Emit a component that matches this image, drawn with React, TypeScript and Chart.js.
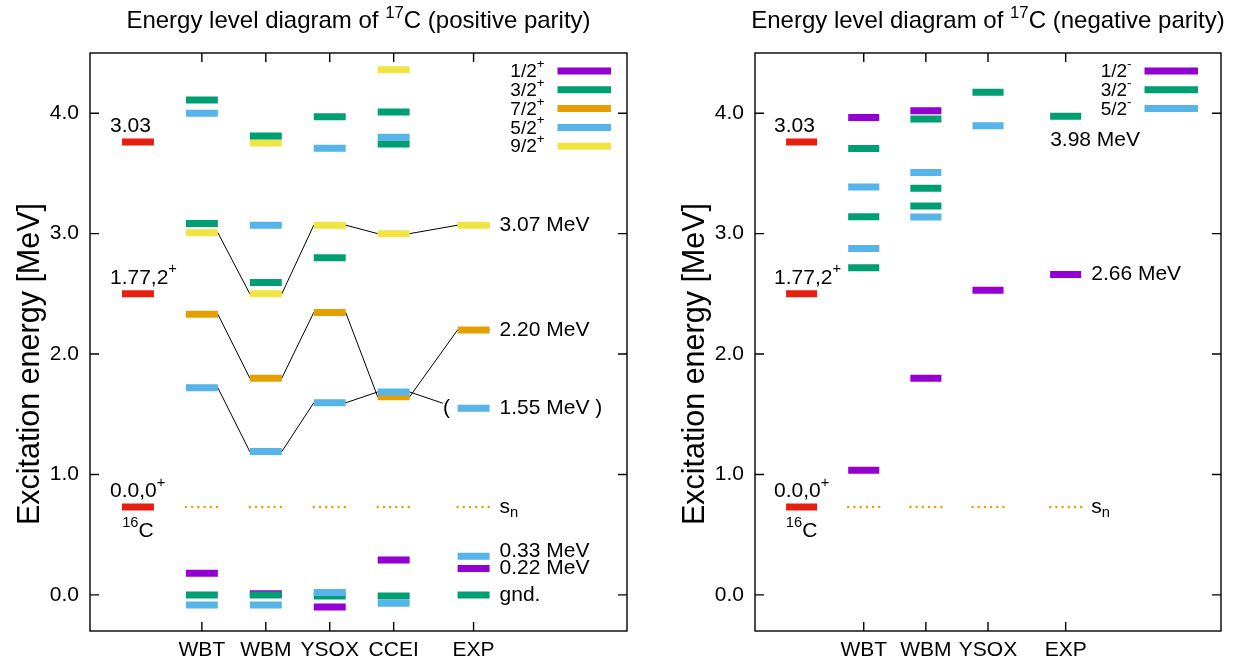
import React, { useEffect, useRef } from "react";
import { Chart, registerables } from "chart.js";

Chart.register(...registerables);

const FONT = "'Liberation Sans', Arial, sans-serif";

const C_PURPLE = "#9400D3";
const C_GREEN = "#009E73";
const C_BLUE = "#56B4E9";
const C_ORANGE = "#E69F00";
const C_YELLOW = "#F0E442";
const C_RED = "#E51E10";

// ---- 16C reference (drawn relative to the neutron threshold) ----
const SN = 0.73;
const C16_X = 0.75;
const C16_EX = [0.0, 1.77, 3.03];
const C16_LABELS = ["0.0,0^{+}", "1.77,2^{+}", "3.03"];

const Y_TICKS = [0, 1, 2, 3, 4];

// ---- positive parity ----
const POS_MODELS = ["WBT", "WBM", "YSOX", "CCEI", "EXP"];
const POS_MODEL_X = [1.75, 2.75, 3.75, 4.75, 6.0];
const POS_J12 = [[0.18], [0.01], [-0.1], [0.29], [0.22]];
const POS_J32 = [[0.0, 3.085, 4.11], [0.0, 2.595, 3.81], [-0.01, 2.8, 3.97], [-0.01, 3.745, 4.01], [0.0]];
const POS_J52 = [[-0.085, 1.72, 4.0], [-0.085, 1.19, 3.07], [0.02, 1.595, 3.71], [-0.07, 1.685, 3.8], [0.32, 1.55]];
const POS_J72 = [[2.33], [1.8], [2.345], [1.645], [2.2]];
const POS_J92 = [[3.008], [2.5, 3.752], [3.07], [3.0, 4.36], [3.07]];
const POS_LINK_92 = [3.008, 2.5, 3.07, 3.0, 3.07];
const POS_LINK_72 = [2.33, 1.8, 2.345, 1.645, 2.2];
const POS_LINK_52 = [1.72, 1.19, 1.595, 1.685, 1.55];
const POS_LEGEND = ["1/2^{+}", "3/2^{+}", "7/2^{+}", "5/2^{+}", "9/2^{+}"];
const POS_LEGEND_COLORS = [C_PURPLE, C_GREEN, C_ORANGE, C_BLUE, C_YELLOW];
const POS_NOTES = ["3.07 MeV", "2.20 MeV", "1.55 MeV )", "(", "s_{n}", "0.33 MeV", "0.22 MeV", "gnd."];
const POS_NOTE_E = [3.07, 2.2, 1.55, 1.55, SN, 0.32, 0.22, 0.0];

// ---- negative parity ----
const NEG_MODELS = ["WBT", "WBM", "YSOX", "EXP"];
const NEG_MODEL_X = [1.75, 2.75, 3.75, 5.0];
const NEG_J12 = [[1.035, 3.965], [1.8, 4.02], [2.53], [2.66]];
const NEG_J32 = [[2.716, 3.14, 3.706], [3.23, 3.376, 3.952], [4.175], [3.975]];
const NEG_J52 = [[2.877, 3.388], [3.139, 3.507], [3.896], []];
const NEG_LEGEND = ["1/2^{-}", "3/2^{-}", "5/2^{-}"];
const NEG_LEGEND_COLORS = [C_PURPLE, C_GREEN, C_BLUE];
const NEG_NOTES = ["3.98 MeV", "2.66 MeV", "s_{n}"];
const NEG_NOTE_E = [3.975, 2.66, SN];

const HALF = 0.25;

type Pt = { x: number; y: number | null };

function barPoints(xs: number[], levels: number[][]): Pt[] {
  const pts: Pt[] = [];
  xs.forEach((x, i) => {
    (levels[i] || []).forEach((e) => {
      pts.push({ x: x - HALF, y: e }, { x: x + HALF, y: e }, { x: x + HALF, y: null });
    });
  });
  return pts;
}

function linkPoints(xs: number[], es: number[], endX?: number): Pt[] {
  const pts: { x: number; y: number }[] = [];
  xs.forEach((x, i) => {
    pts.push({ x: x - HALF, y: es[i] }, { x: x + HALF, y: es[i] });
  });
  if (endX !== undefined) {
    const a = pts[pts.length - 3];
    const b = pts[pts.length - 2];
    const t = (endX - a.x) / (b.x - a.x);
    pts.splice(pts.length - 2, 2, { x: endX, y: a.y + t * (b.y - a.y) });
  }
  return pts;
}

function parseRich(s: string) {
  const out: { t: string; m: string }[] = [];
  const re = /(\^\{([^}]*)\}|_\{([^}]*)\})/g;
  let last = 0;
  let m: RegExpExecArray | null;
  while ((m = re.exec(s))) {
    if (m.index > last) out.push({ t: s.slice(last, m.index), m: "n" });
    if (m[2] !== undefined) out.push({ t: m[2], m: "sup" });
    else out.push({ t: m[3], m: "sub" });
    last = re.lastIndex;
  }
  if (last < s.length) out.push({ t: s.slice(last), m: "n" });
  return out;
}

function drawRich(ctx: CanvasRenderingContext2D, s: string, x: number, y: number, size: number, align: string, baseline: CanvasTextBaseline = "middle") {
  const segs = parseRich(s);
  ctx.save();
  ctx.textAlign = "left";
  ctx.textBaseline = baseline;
  ctx.fillStyle = "#000";
  const small = size * 0.7;
  const ws = segs.map((sg) => {
    ctx.font = `${sg.m === "n" ? size : small}px ${FONT}`;
    return ctx.measureText(sg.t).width;
  });
  const total = ws.reduce((a, b) => a + b, 0);
  let cx = align === "left" ? x : align === "right" ? x - total : x - total / 2;
  segs.forEach((sg, i) => {
    ctx.font = `${sg.m === "n" ? size : small}px ${FONT}`;
    const dy = sg.m === "sup" ? -size * 0.4 : sg.m === "sub" ? size * 0.28 : 0;
    ctx.fillText(sg.t, cx, y + dy);
    cx += ws[i];
  });
  ctx.restore();
}

interface Note { text: string; x: number; e: number; dx: number; dy: number; align: string }

interface Panel {
  title: string;
  models: string[];
  modelX: number[];
  xMax: number;
  yAxisWidth: number;
  padRight: number;
  width: number;
  left: number;
  groups: { color: string; levels: number[][]; order: number }[];
  links: { es: number[]; endX?: number }[];
  legend: string[];
  legendColors: string[];
  legendInset: number;
  notes: Note[];
}

const posExpX = POS_MODEL_X[4];
const negExpX = NEG_MODEL_X[3];

const POS_PANEL: Panel = {
  title: "Energy level diagram of ^{17}C (positive parity)",
  models: POS_MODELS,
  modelX: POS_MODEL_X,
  xMax: 8.4,
  yAxisWidth: 90,
  padRight: 13,
  width: 640,
  left: 0,
  groups: [
    { color: C_BLUE, levels: POS_J52, order: 1 },
    { color: C_GREEN, levels: POS_J32, order: 2 },
    { color: C_YELLOW, levels: POS_J92, order: 3 },
    { color: C_ORANGE, levels: POS_J72, order: 4 },
    { color: C_PURPLE, levels: POS_J12, order: 5 },
  ],
  links: [{ es: POS_LINK_92 }, { es: POS_LINK_72 }, { es: POS_LINK_52, endX: 5.52 }],
  legend: POS_LEGEND,
  legendColors: POS_LEGEND_COLORS,
  legendInset: 16,
  notes: POS_NOTES.map((t, i) => ({
    text: t,
    x: t === "(" ? 5.52 : posExpX + HALF,
    e: POS_NOTE_E[i],
    dx: t === "(" ? 0 : 10,
    dy: t === "0.33 MeV" ? -5 : 0,
    align: "left",
  })),
};

const NEG_PANEL: Panel = {
  title: "Energy level diagram of ^{17}C (negative parity)",
  models: NEG_MODELS,
  modelX: NEG_MODEL_X,
  xMax: 7.5,
  yAxisWidth: 115,
  padRight: 17,
  width: 598,
  left: 640,
  groups: [
    { color: C_BLUE, levels: NEG_J52, order: 1 },
    { color: C_GREEN, levels: NEG_J32, order: 2 },
    { color: C_PURPLE, levels: NEG_J12, order: 5 },
  ],
  links: [],
  legend: NEG_LEGEND,
  legendColors: NEG_LEGEND_COLORS,
  legendInset: 23,
  notes: NEG_NOTES.map((t, i) => ({
    text: t,
    x: i === 0 ? negExpX - HALF : negExpX + HALF,
    e: NEG_NOTE_E[i],
    dx: i === 0 ? 0 : 10,
    dy: i === 0 ? 24 : 0,
    align: "left",
  })),
};

function makeChart(canvas: HTMLCanvasElement, p: Panel) {
  const datasets: any[] = [];
  p.links.forEach((l) => {
    datasets.push({ data: linkPoints(p.modelX, l.es, l.endX), borderColor: "#000", borderWidth: 1, order: 10 });
  });
  datasets.push({
    data: barPoints(p.modelX, p.modelX.map(() => [SN])),
    borderColor: C_ORANGE,
    borderWidth: 2.4,
    borderDash: [0.1, 6.1],
    borderCapStyle: "round",
    order: 8,
  });
  datasets.push({
    data: barPoints([C16_X], [C16_EX.map((e) => e + SN)]),
    borderColor: C_RED,
    borderWidth: 7,
    order: 6,
  });
  p.groups.forEach((g) => {
    datasets.push({ data: barPoints(p.modelX, g.levels), borderColor: g.color, borderWidth: 7, order: g.order });
  });

  const decor = {
    id: "decor",
    afterDraw(chart: any) {
      const ctx: CanvasRenderingContext2D = chart.ctx;
      const ca = chart.chartArea;
      const xs = chart.scales.x;
      const ys = chart.scales.y;
      ctx.save();
      ctx.strokeStyle = "#000";
      ctx.lineWidth = 1.4;
      ctx.strokeRect(ca.left, ca.top, ca.right - ca.left, ca.bottom - ca.top);
      ctx.beginPath();
      p.modelX.forEach((v) => {
        const px = xs.getPixelForValue(v);
        ctx.moveTo(px, ca.bottom);
        ctx.lineTo(px, ca.bottom - 9);
        ctx.moveTo(px, ca.top);
        ctx.lineTo(px, ca.top + 9);
      });
      Y_TICKS.forEach((v) => {
        const py = ys.getPixelForValue(v);
        ctx.moveTo(ca.left, py);
        ctx.lineTo(ca.left + 9, py);
        ctx.moveTo(ca.right, py);
        ctx.lineTo(ca.right - 9, py);
      });
      ctx.stroke();
      ctx.restore();

      // title
      drawRich(ctx, p.title, (ca.left + ca.right) / 2, 28, 24, "center", "alphabetic");

      // y label
      ctx.save();
      ctx.translate(ca.left - 59, (ca.top + ca.bottom) / 2 + 22);
      ctx.rotate(-Math.PI / 2);
      ctx.font = `30.5px ${FONT}`;
      ctx.fillStyle = "#000";
      ctx.textAlign = "center";
      ctx.textBaseline = "middle";
      ctx.fillText("Excitation energy [MeV]", 0, 0);
      ctx.restore();

      // legend
      p.legend.forEach((lab, i) => {
        const y = ca.top + 18 + i * 18.8;
        const x1 = ca.right - p.legendInset;
        const x0 = x1 - 53.5;
        ctx.save();
        ctx.strokeStyle = p.legendColors[i];
        ctx.lineWidth = 7;
        ctx.lineCap = "butt";
        ctx.beginPath();
        ctx.moveTo(x0, y);
        ctx.lineTo(x1, y);
        ctx.stroke();
        ctx.restore();
        drawRich(ctx, lab, x0 - 13, y + 1, 19, "right");
      });

      // 16C labels
      const bx = xs.getPixelForValue(C16_X - HALF);
      const bc = xs.getPixelForValue(C16_X);
      C16_EX.forEach((e, i) => {
        const py = ys.getPixelForValue(e + SN);
        drawRich(ctx, C16_LABELS[i], bx - 12, py - 16, 21, "left");
      });
      drawRich(ctx, "^{16}C", bc, ys.getPixelForValue(C16_EX[0] + SN) + 24, 21, "center");

      // notes
      p.notes.forEach((n) => {
        drawRich(ctx, n.text, xs.getPixelForValue(n.x) + n.dx, ys.getPixelForValue(n.e) + n.dy, 21, n.align);
      });
    },
  };

  return new Chart(canvas, {
    type: "line",
    data: { datasets },
    options: {
      responsive: false,
      animation: false,
      devicePixelRatio: 1,
      events: [],
      spanGaps: false,
      layout: { padding: { left: 0, right: p.padRight, top: 53, bottom: 0 } },
      plugins: { legend: { display: false }, tooltip: { enabled: false }, title: { display: false } },
      elements: {
        point: { radius: 0, hoverRadius: 0 },
        line: { tension: 0, borderCapStyle: "butt", borderJoinStyle: "miter", fill: false },
      },
      scales: {
        x: {
          type: "linear",
          min: 0,
          max: p.xMax,
          grid: { display: false, drawTicks: false },
          border: { display: false },
          afterBuildTicks: (s: any) => {
            s.ticks = p.modelX.map((v) => ({ value: v }));
          },
          afterFit: (s: any) => {
            s.height = 33;
          },
          ticks: {
            autoSkip: false,
            maxRotation: 0,
            minRotation: 0,
            padding: 7,
            color: "#000",
            font: { family: FONT, size: 21 },
            callback: (v: any) => {
              const i = p.modelX.indexOf(Number(v));
              return i >= 0 ? p.models[i] : "";
            },
          },
        },
        y: {
          type: "linear",
          min: -0.3,
          max: 4.5,
          grid: { display: false, drawTicks: false },
          border: { display: false },
          afterBuildTicks: (s: any) => {
            s.ticks = Y_TICKS.map((v) => ({ value: v }));
          },
          afterFit: (s: any) => {
            s.width = p.yAxisWidth;
          },
          ticks: {
            padding: 11,
            color: "#000",
            font: { family: FONT, size: 21 },
            callback: (v: any) => Number(v).toFixed(1),
          },
        },
      },
    } as any,
    plugins: [decor],
  });
}

function PanelCanvas({ panel }: { panel: Panel }) {
  const ref = useRef<HTMLCanvasElement | null>(null);
  useEffect(() => {
    if (!ref.current) return;
    const ch = makeChart(ref.current, panel);
    return () => ch.destroy();
  }, [panel]);
  return (
    <canvas
      ref={ref}
      width={panel.width}
      height={664}
      style={{ position: "absolute", left: panel.left, top: 0, width: panel.width, height: 664 }}
    />
  );
}

export default function App() {
  return (
    <div style={{ position: "absolute", left: 0, top: 0, width: 1238, height: 664, background: "#fff", overflow: "hidden" }}>
      <PanelCanvas panel={POS_PANEL} />
      <PanelCanvas panel={NEG_PANEL} />
    </div>
  );
}
